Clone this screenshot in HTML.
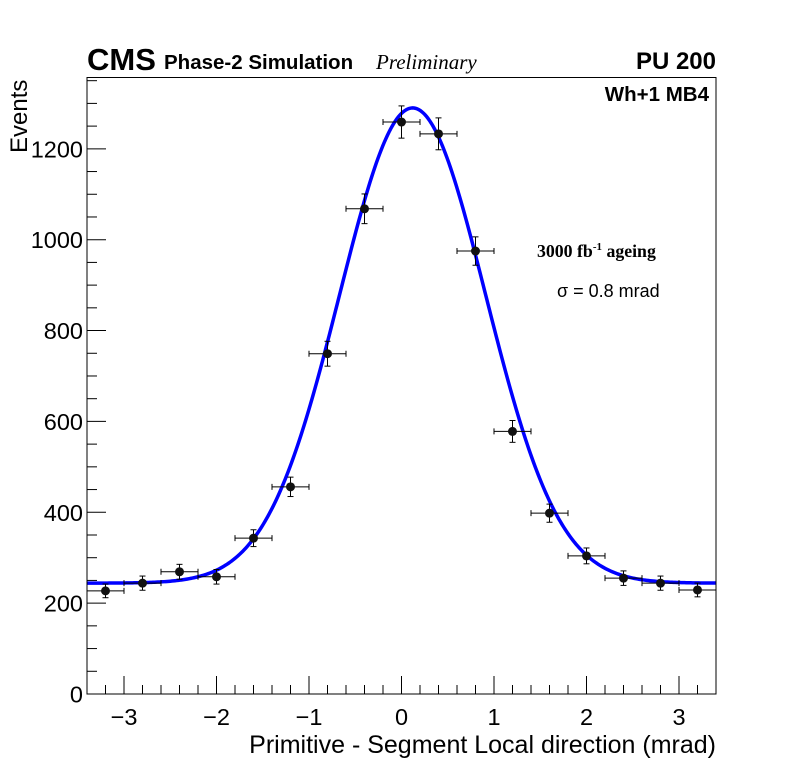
<!DOCTYPE html>
<html><head><meta charset="utf-8"><style>
html,body{margin:0;padding:0;background:#fff;}
svg{display:block;font-family:"Liberation Sans",sans-serif;}
</style></head><body>
<svg id="chart" width="796" height="772" viewBox="0 0 796 772">
<rect x="0" y="0" width="796" height="772" fill="#fff"/>
<g id="axes"></g>
<g id="marks"></g>
<rect x="87" y="77.5" width="629" height="616.5" fill="none" stroke="#000" stroke-width="1"/>
<text x="87" y="70" font-size="31" font-weight="bold">CMS</text>
<text x="164" y="69" font-size="20.5" font-weight="bold">Phase-2 Simulation</text>
<text x="376" y="69" font-size="21" font-style="italic" font-family="Liberation Serif, serif">Preliminary</text>
<text x="716" y="69" font-size="24" font-weight="bold" text-anchor="end">PU 200</text>
<text x="709" y="101" font-size="20.5" font-weight="bold" text-anchor="end">Wh+1 MB4</text>
<text x="537" y="257" font-size="17.8" font-weight="bold" font-family="Liberation Serif, serif">3000 fb<tspan dy="-7" font-size="11">-1</tspan><tspan dy="7"> ageing</tspan></text>
<text x="557" y="297" font-size="18">σ = 0.8 mrad</text>
<text x="716" y="753" font-size="25" text-anchor="end">Primitive - Segment Local direction (mrad)</text>
<text transform="translate(27,153) rotate(-90)" font-size="24">Events</text>
</svg>
<script>
const binCenters=[-3.2,-2.8,-2.4,-2.0,-1.6,-1.2,-0.8,-0.4,0.0,0.4,0.8,1.2,1.6,2.0,2.4,2.8,3.2];
const counts=[227,244,269,258,343,456,749,1068,1259,1233,975,578,398,304,255,244,229];
const fitConst=[244];
const fitAmp=[1046];
const fitMean=[0.12];
const fitSigma=[0.79];
const xTicks=[-3,-2,-1,0,1,2,3];
const xTickLabels=["\u22123","\u22122","\u22121","0","1","2","3"];
const yTicks=[0,200,400,600,800,1000,1200];
const yTickLabels=["0","200","400","600","800","1000","1200"];
const binHalf=0.2;

const X0=87,X1=716,Y0=694,Y1=77.5,xmin=-3.4,xmax=3.4,ymin=0,ymax=1357;
const sx=v=>X0+(v-xmin)/(xmax-xmin)*(X1-X0);
const sy=v=>Y0-(v-ymin)/(ymax-ymin)*(Y0-Y1);
const NS="http://www.w3.org/2000/svg";
const axes=document.getElementById('axes'),marks=document.getElementById('marks');
function mk(t,a,p){const e=document.createElementNS(NS,t);for(const k in a)e.setAttribute(k,a[k]);p.appendChild(e);return e;}
for(let v=-3.4;v<=3.41;v+=0.2){
  const r=Math.round(v*5)/5;const major=Math.abs(r-Math.round(r))<1e-6;
  const t=mk('line',{x1:sx(r),x2:sx(r),y1:Y0,y2:Y0-(major?18:9),stroke:'#000','stroke-width':1},axes);
  
  
}
xTicks.forEach((v,i)=>{const t=mk('text',{x:sx(v),y:Y0+31,'font-size':23.5,'text-anchor':'middle'},axes);t.textContent=xTickLabels[i];
  
  });
for(let v=0;v<=1350;v+=50){
  const major=v%200===0;
  const t=mk('line',{x1:X0,x2:X0+(major?19:10),y1:sy(v),y2:sy(v),stroke:'#000','stroke-width':1},axes);
  
  
}
yTicks.forEach((v,i)=>{const t=mk('text',{x:X0-4,y:sy(v)+8.5,'font-size':23.5,'text-anchor':'end'},axes);t.textContent=yTickLabels[i];
  
  });
let d='';
for(let i=0;i<=400;i++){const x=xmin+(xmax-xmin)*i/400;
  const y=fitConst[0]+fitAmp[0]*Math.exp(-Math.pow(x-fitMean[0],2)/(2*fitSigma[0]*fitSigma[0]));
  d+=(i?'L':'M')+sx(x).toFixed(2)+','+sy(y).toFixed(2);}
const fit=mk('path',{d:d,fill:'none',stroke:'#0000ff','stroke-width':3.5},marks);


binCenters.forEach((c,i)=>{
  const n=counts[i],e=Math.sqrt(n);
  const g=mk('g',{},marks);
  
  
  const cx=sx(c),cy=sy(n);
  mk('line',{x1:sx(c-binHalf),x2:sx(c+binHalf),y1:cy,y2:cy,stroke:'#000','stroke-width':1},g);
  mk('line',{x1:sx(c-binHalf),x2:sx(c-binHalf),y1:cy-3,y2:cy+3,stroke:'#000','stroke-width':1},g);
  mk('line',{x1:sx(c+binHalf),x2:sx(c+binHalf),y1:cy-3,y2:cy+3,stroke:'#000','stroke-width':1},g);
  mk('line',{x1:cx,x2:cx,y1:sy(n+e),y2:sy(n-e),stroke:'#000','stroke-width':1},g);
  mk('line',{x1:cx-3,x2:cx+3,y1:sy(n+e),y2:sy(n+e),stroke:'#000','stroke-width':1},g);
  mk('line',{x1:cx-3,x2:cx+3,y1:sy(n-e),y2:sy(n-e),stroke:'#000','stroke-width':1},g);
  mk('circle',{cx:cx,cy:cy,r:4.5,fill:'#111'},g);
});
</script>
</body></html>
